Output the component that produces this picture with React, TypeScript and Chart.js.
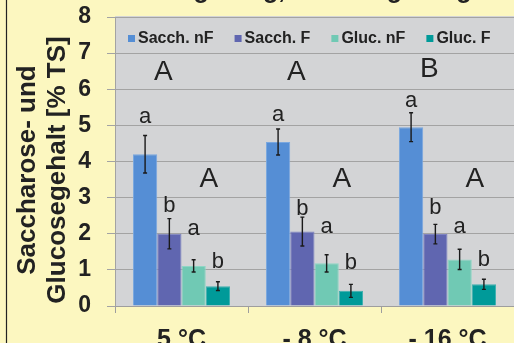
import React, { useEffect, useRef } from "react";
import { Chart, registerables } from "chart.js";

Chart.register(...registerables);

const FONT = "'Liberation Sans', Arial, Helvetica, sans-serif";

const categories = ["5 °C", "- 8 °C", "- 16 °C"];
const seriesNames = ["Sacch. nF", "Sacch. F", "Gluc. nF", "Gluc. F"];
const seriesColors = ["#558ED5", "#6066B0", "#70C9B4", "#009A99"];
const seriesBorders = ["#79A7E0", "#7F84C2", "#8ED6C5", "#3DB0AF"];

const sacchNF = [4.2, 4.54, 4.95];
const sacchF = [2.0, 2.06, 1.99];
const glucNF = [1.11, 1.18, 1.29];
const glucF = [0.55, 0.42, 0.6];

const errSacchNF = [0.52, 0.36, 0.4];
const errSacchF = [0.42, 0.4, 0.27];
const errGlucNF = [0.17, 0.24, 0.28];
const errGlucF = [0.12, 0.18, 0.14];

const letterSacchNF = ["a", "a", "a"];
const letterSacchF = ["b", "b", "b"];
const letterGlucNF = ["a", "a", "a"];
const letterGlucF = ["b", "b", "b"];

const letterYSacchNF = [5.24, 5.29, 5.69];
const letterYSacchF = [2.77, 2.68, 2.72];
const letterYGlucNF = [2.13, 2.2, 2.2];
const letterYGlucF = [1.23, 1.2, 1.27];

const groupLetterSacch = ["A", "A", "B"];
const groupLetterSacchY = [6.48, 6.48, 6.54];
const groupLetterGluc = ["A", "A", "A"];
const groupLetterGlucY = [3.52, 3.52, 3.52];

const yMin = 0;
const yMax = 8;
const yStep = 1;

const yTitleLines = ["Saccharose- und", "Glucosegehalt [% TS]"];
const chartTitle = "Ohne Lagerung, nach Lagerung";

const values = [sacchNF, sacchF, glucNF, glucF];
const errors = [errSacchNF, errSacchF, errGlucNF, errGlucF];
const letters = [letterSacchNF, letterSacchF, letterGlucNF, letterGlucF];
const letterYs = [letterYSacchNF, letterYSacchF, letterYGlucNF, letterYGlucF];

const decorPlugin = {
  id: "decor",
  beforeDraw(chart: any) {
    const { ctx, chartArea, width, height } = chart;
    ctx.save();
    ctx.fillStyle = "#FCF7C0";
    ctx.fillRect(0, 0, width, height);
    ctx.fillStyle = "#D3D4D6";
    ctx.fillRect(chartArea.left, chartArea.top - 1, chartArea.right - chartArea.left, chartArea.bottom - chartArea.top + 1);
    ctx.strokeStyle = "#222";
    ctx.lineWidth = 1.2;
    ctx.beginPath();
    ctx.moveTo(6.5, 0);
    ctx.lineTo(6.5, height);
    ctx.stroke();
    ctx.restore();
  },
  afterDatasetsDraw(chart: any) {
    const { ctx, chartArea } = chart;
    const yScale = chart.scales.y;
    ctx.save();
    // error bars
    ctx.strokeStyle = "#1A1A1A";
    ctx.lineWidth = 1.4;
    values.forEach((arr, i) => {
      const meta = chart.getDatasetMeta(i);
      arr.forEach((v, j) => {
        const bar = meta.data[j];
        const e = errors[i][j];
        const yt = yScale.getPixelForValue(v + e);
        const yb = yScale.getPixelForValue(v - e);
        ctx.beginPath();
        ctx.moveTo(bar.x, yt);
        ctx.lineTo(bar.x, yb);
        ctx.moveTo(bar.x - 2, yt);
        ctx.lineTo(bar.x + 2, yt);
        ctx.moveTo(bar.x - 2, yb);
        ctx.lineTo(bar.x + 2, yb);
        ctx.stroke();
      });
    });
    // significance letters
    ctx.fillStyle = "#222";
    ctx.textAlign = "center";
    ctx.textBaseline = "middle";
    ctx.font = `22px ${FONT}`;
    letters.forEach((arr, i) => {
      const meta = chart.getDatasetMeta(i);
      arr.forEach((t, j) => {
        ctx.fillText(t, meta.data[j].x, yScale.getPixelForValue(letterYs[i][j]));
      });
    });
    ctx.font = `28px ${FONT}`;
    const m0 = chart.getDatasetMeta(0), m1 = chart.getDatasetMeta(1);
    const m2 = chart.getDatasetMeta(2), m3 = chart.getDatasetMeta(3);
    groupLetterSacch.forEach((t, j) => {
      const x = (m0.data[j].x + m1.data[j].x) / 2 + 6;
      ctx.fillText(t, x, yScale.getPixelForValue(groupLetterSacchY[j]));
    });
    groupLetterGluc.forEach((t, j) => {
      const x = (m2.data[j].x + m3.data[j].x) / 2 + 3;
      ctx.fillText(t, x, yScale.getPixelForValue(groupLetterGlucY[j]));
    });
    // legend
    ctx.font = `bold 16px ${FONT}`;
    ctx.textAlign = "left";
    let lx = chartArea.left + 13;
    const ly = chartArea.top + 21.5;
    seriesNames.forEach((name, i) => {
      ctx.fillStyle = seriesColors[i];
      ctx.fillRect(lx, ly - 3.5, 7, 7);
      lx += 10;
      ctx.fillStyle = "#222";
      ctx.fillText(name, lx, ly);
      lx += ctx.measureText(name).width + 21;
    });
    // title (mostly cropped above)
    ctx.font = `bold 25px ${FONT}`;
    ctx.textAlign = "center";
    ctx.textBaseline = "alphabetic";
    ctx.fillText(chartTitle, (chartArea.left + chartArea.right) / 2 - 32, -2);
    // y axis title
    const cy = (chartArea.top + chartArea.bottom) / 2 + 8.5;
    ctx.font = `bold 26px ${FONT}`;
    [35, 65].forEach((bx, k) => {
      ctx.save();
      ctx.translate(bx, cy);
      ctx.rotate(-Math.PI / 2);
      ctx.fillText(yTitleLines[k], 0, 0);
      ctx.restore();
    });
    ctx.restore();
  },
};

export default function App() {
  const ref = useRef<HTMLCanvasElement | null>(null);
  useEffect(() => {
    if (!ref.current) return;
    const chart = new Chart(ref.current, {
      type: "bar",
      data: {
        labels: categories,
        datasets: values.map((arr, i) => ({
          label: seriesNames[i],
          data: arr,
          backgroundColor: seriesColors[i],
          borderColor: seriesBorders[i],
          borderWidth: 1,
          categoryPercentage: 0.73,
          barPercentage: 1.0,
        })),
      },
      options: {
        responsive: false,
        animation: false,
        devicePixelRatio: 1,
        layout: { padding: { top: 17, left: 0, right: 0, bottom: 0 } },
        plugins: {
          legend: { display: false },
          title: { display: false },
          tooltip: { enabled: false },
        },
        scales: {
          x: {
            afterFit: (s: any) => {
              s.height = 54;
              s.paddingLeft = 0;
              s.paddingRight = 0;
            },
            grid: {
              display: true,
              drawOnChartArea: false,
              drawTicks: true,
              tickLength: 7,
              color: "#9E9E9E",
              offset: true,
            },
            border: { display: true, color: "#9E9E9E" },
            ticks: {
              color: "#222",
              font: { family: FONT, size: 25, weight: "bold" },
              padding: 12,
              maxRotation: 0,
            },
          },
          y: {
            min: yMin,
            max: yMax,
            afterFit: (s: any) => {
              s.width = 115;
              s.paddingTop = 0;
              s.paddingBottom = 0;
            },
            grid: { color: "#A3A3A3", tickLength: 8, lineWidth: 1 },
            border: { display: true, color: "#A3A3A3" },
            ticks: {
              stepSize: yStep,
              color: "#222",
              font: { family: FONT, size: 23, weight: "bold" },
              padding: 16,
            },
          },
        },
      },
      plugins: [decorPlugin],
    });
    return () => chart.destroy();
  }, []);
  return (
    <div
      style={{
        position: "fixed",
        left: 0,
        top: 0,
        width: 514,
        height: 343,
        overflow: "hidden",
        background: "#FCF7C0",
      }}
    >
      <canvas ref={ref} width={514} height={360} style={{ display: "block" }} />
    </div>
  );
}
